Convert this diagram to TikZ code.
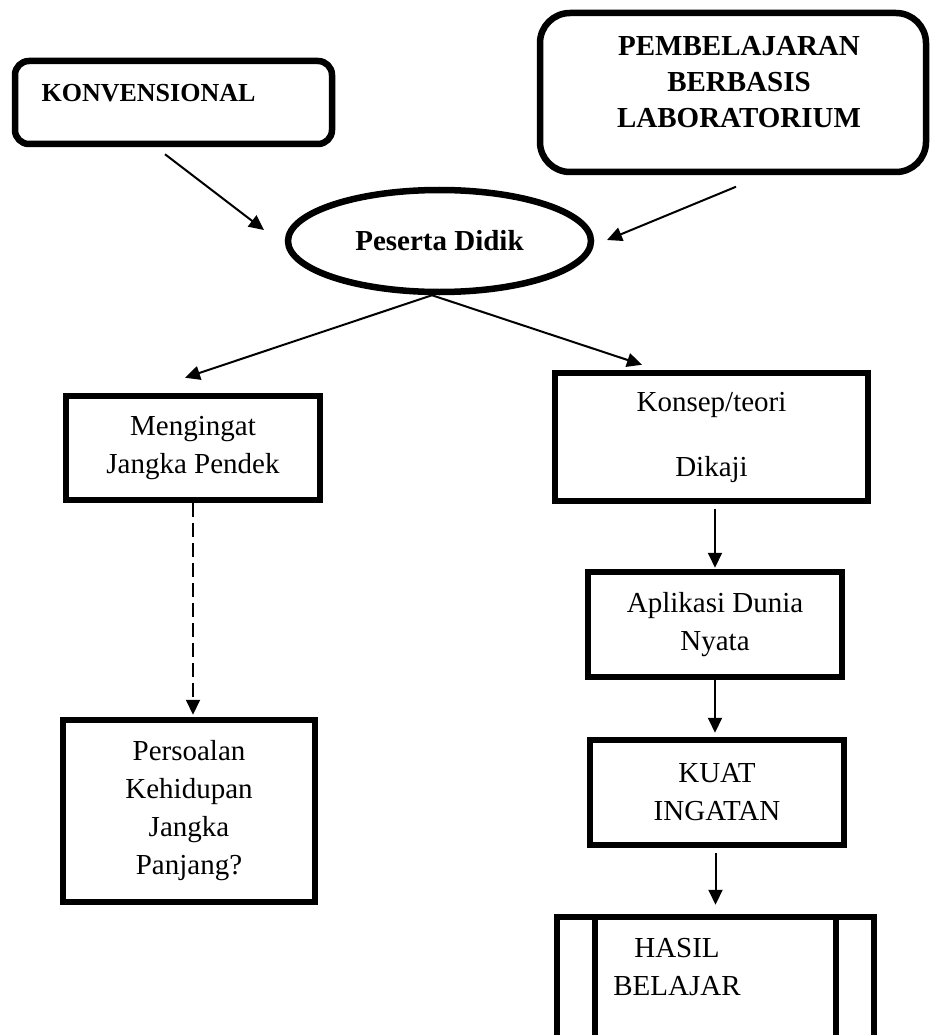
\documentclass[tikz,border=0pt]{standalone}
\usepackage{fontspec}
\setmainfont{Liberation Serif}
\usetikzlibrary{shapes.geometric,arrows.meta}

\begin{document}
\begin{tikzpicture}[x=1pt,y=-1pt,
  box/.style={draw,line width=6.5pt,inner sep=0pt,align=center,font=\fontsize{29}{38}\selectfont},
  bold/.style={align=center,font=\fontsize{29}{36}\selectfont\bfseries},
  arr/.style={line width=2pt,-{Triangle[length=15pt,width=14pt]}}]
\useasboundingbox (0,0) rectangle (931,1035);
\clip (0,0) rectangle (931,1035);

\node[box,rounded corners=14pt,minimum width=317,minimum height=83] (konv) at (173.5,102.5) {};
\node[bold,font=\fontsize{26}{32}\selectfont\bfseries] (konvtxt) at (148.5,93) {KONVENSIONAL};
\node[box,rounded corners=30pt,minimum width=386,minimum height=159] (pemb) at (733,92.5) {};
\node[bold] (pembtxt) at (739,82.5) {PEMBELAJARAN\\BERBASIS\\LABORATORIUM};
\node[box,ellipse,minimum width=303,minimum height=102,bold] (peserta) at (439.5,241) {Peserta Didik};

\node[box,minimum width=254,minimum height=104] (mengingat) at (193,448) {Mengingat\\Jangka Pendek};
\node[box,minimum width=252,minimum height=182] (persoalan) at (189,811) {Persoalan\\Kehidupan\\Jangka\\Panjang?};

\node[box,minimum width=313,minimum height=128] (konsep) at (711.5,437) {Konsep/teori\\[27pt]Dikaji};
\node[box,minimum width=254,minimum height=105] (aplikasi) at (715,624.5) {Aplikasi Dunia\\Nyata};
\node[box,minimum width=254,minimum height=105] (kuat) at (717,792.5) {KUAT\\INGATAN};
\node[box,minimum width=317,minimum height=140] (hasil) at (715.5,987) {};
\draw[line width=6pt] ([xshift=-120.5pt]hasil.north) -- ([xshift=-120.5pt]hasil.south);
\draw[line width=6pt] ([xshift=120.5pt]hasil.north) -- ([xshift=120.5pt]hasil.south);
\node[box,draw=none] (hasiltxt) at (677,967) {HASIL\\BELAJAR};

\draw[arr] ([shift={(-8.5,7)}]konv.south) -- ([shift={(-20.75,-11)}]peserta.west);
\draw[arr] ([shift={(3,11.5)}]pemb.south) -- ([shift={(12.75,-1)}]peserta.east);
\draw[arr] ([xshift=-7.5pt]peserta.south) -- ([shift={(-8,-15)}]mengingat.north);
\draw[arr] ([xshift=-7.5pt]peserta.south) -- ([shift={(-69.5,-5)}]konsep.north);
\draw[arr,dash pattern=on 14pt off 6pt] (mengingat.south) -- ([yshift=2pt]mengingat.south |- persoalan.north);
\draw[arr] ([yshift=-5pt]konsep.south -| aplikasi.north) -- ([yshift=1pt]aplikasi.north);
\draw[arr] (aplikasi.south) -- ([yshift=4pt]aplikasi.south |- kuat.north);
\draw[arr] ([yshift=-5pt]kuat.south -| hasil.north) -- ([yshift=9pt]hasil.north);
\end{tikzpicture}
\end{document}
